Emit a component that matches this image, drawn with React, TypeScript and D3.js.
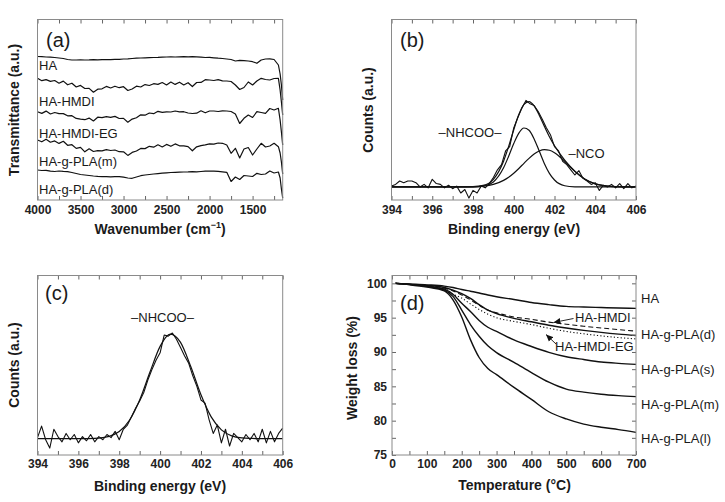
import React, { useRef, useEffect } from "react";
import * as d3 from "d3";

const FONT = "'Liberation Sans', Arial, Helvetica, sans-serif";

// ---------- (a) FTIR ----------
const wavenumbers = [
  4000, 3950, 3900, 3850, 3800, 3750, 3700, 3650, 3600, 3550,
  3500, 3450, 3400, 3350, 3300, 3250, 3200, 3150, 3100, 3050,
  3000, 2950, 2900, 2850, 2800, 2750, 2700, 2650, 2600, 2550,
  2500, 2450, 2400, 2350, 2300, 2250, 2200, 2150, 2100, 2050,
  2000, 1950, 1900, 1850, 1800, 1750, 1700, 1650, 1600, 1550,
  1500, 1450, 1400, 1350, 1300, 1250, 1200, 1180, 1165, 1150,
];
const ftirHA = [
  143.5, 143.3, 143.0, 142.8, 142.5, 142.0, 141.5, 140.5, 140.0, 140.0,
  140.2, 140.0, 140.1, 140.3, 140.2, 140.4, 140.5, 140.4, 140.6, 140.7,
  141.0, 141.2, 141.5, 141.8, 142.0, 142.2, 142.4, 142.5, 142.6, 142.8,
  143.0, 143.1, 143.0, 143.2, 143.4, 143.2, 143.3, 143.1, 142.9, 142.5,
  142.6, 142.2, 141.8, 141.5, 141.0, 140.5, 139.0, 139.6, 139.3, 139.0,
  138.3, 136.7, 140.0, 141.0, 141.2, 140.5, 135.0, 126, 115, 100,
];
const ftirHMDI = [
  121.7, 119.3, 120.4, 118.6, 119.5, 116.8, 118.9, 115.2, 116.8, 113.0,
  114.6, 111.5, 111.6, 107.8, 110.8, 111.2, 113.6, 112.0, 113.8, 112.3,
  113.3, 109.5, 111.0, 113.8, 113.0, 115.4, 114.5, 116.3, 115.6, 117.5,
  115.0, 118.0, 115.6, 117.8, 115.0, 117.3, 113.5, 117.5, 117.6, 120.3,
  120.0, 119.5, 120.3, 119.2, 119.0, 118.5, 115.0, 110.5, 112.5, 118.0,
  115.0, 119.0, 121.7, 120.5, 120.0, 121.5, 121.7, 110, 98, 85,
];
const ftirHMDIEG = [
  88.3, 86.6, 88.9, 86.0, 87.5, 86.3, 86.4, 84.2, 84.3, 81.6,
  80.8, 80.3, 81.9, 79.0, 82.8, 82.4, 83.4, 82.6, 83.6, 81.5,
  81.6, 77.8, 80.9, 82.3, 85.2, 84.8, 87.0, 86.3, 88.7, 87.6,
  88.2, 88.0, 89.0, 88.2, 88.3, 87.0, 86.5, 86.8, 89.2, 87.2,
  89.0, 89.0, 88.5, 89.2, 89.0, 88.5, 86.0, 76.5, 81.7, 85.0,
  82.5, 88.3, 87.5, 86.7, 91.5, 90.0, 91.7, 80, 68, 55,
];
const ftirPLAm = [
  60.0, 58.2, 60.8, 57.8, 59.1, 56.6, 58.7, 54.7, 55.3, 51.6,
  52.6, 48.2, 51.2, 48.5, 49.3, 49.2, 50.3, 49.5, 50.0, 48.3,
  48.2, 44.6, 47.6, 49.0, 51.6, 51.4, 53.7, 52.8, 55.2, 53.0,
  55.6, 53.7, 56.1, 54.2, 54.1, 53.4, 49.2, 53.2, 54.4, 55.2,
  56.2, 55.8, 57.0, 56.7, 55.0, 46.7, 51.7, 42.0, 51.0, 52.5,
  45.0, 51.0, 56.7, 53.0, 54.0, 56.7, 53.3, 47, 38, 26,
];
const ftirPLAd = [
  30.0, 29.5, 29.7, 28.8, 28.5, 29.0, 28.6, 28.3, 27.5, 26.5,
  25.5, 25.0, 24.5, 24.0, 23.6, 23.3, 23.3, 23.2, 23.3, 23.3,
  22.8, 22.0, 21.7, 23.0, 24.3, 25.0, 25.5, 26.0, 26.4, 26.8,
  27.2, 27.5, 27.7, 27.9, 28.0, 28.1, 28.3, 28.2, 28.5, 28.8,
  29.0, 28.8, 28.6, 28.2, 27.7, 18.5, 23.0, 20.5, 24.5, 24.0,
  23.5, 26.7, 25.5, 26.0, 29.0, 27.0, 28.0, 22, 11, 2,
];
const ftirLabels = ["HA", "HA-HMDI", "HA-HMDI-EG", "HA-g-PLA(m)", "HA-g-PLA(d)"];
const ftirTicks = [4000, 3750, 3500, 3250, 3000, 2750, 2500, 2250, 2000, 1750, 1500, 1250];
const ftirMajor = [4000, 3500, 3000, 2500, 2000, 1500];

// ---------- (b), (c) XPS N1s ----------
const energy = [
  394.0, 394.2, 394.4, 394.6, 394.8, 395.0, 395.2, 395.4, 395.6, 395.8,
  396.0, 396.2, 396.4, 396.6, 396.8, 397.0, 397.2, 397.4, 397.6, 397.8,
  398.0, 398.2, 398.4, 398.6, 398.8, 399.0, 399.2, 399.4, 399.6, 399.8,
  400.0, 400.2, 400.4, 400.6, 400.8, 401.0, 401.2, 401.4, 401.6, 401.8,
  402.0, 402.2, 402.4, 402.6, 402.8, 403.0, 403.2, 403.4, 403.6, 403.8,
  404.0, 404.2, 404.4, 404.6, 404.8, 405.0, 405.2, 405.4, 405.6, 405.8, 406.0,
];
const rawB = [
  0.01, 0.03, 0.07, 0.05, 0.07, 0.07, 0.05, 0.0, 0.03, -0.01,
  0.09, 0.04, 0.03, -0.01, 0.02, -0.02, 0.01, -0.07, -0.03, -0.13,
  -0.04, -0.07, 0.01, -0.01, 0.04, 0.11, 0.2, 0.26, 0.42, 0.47,
  0.69, 0.81, 0.92, 1.01, 0.97, 0.95, 0.88, 0.79, 0.69, 0.61,
  0.47, 0.42, 0.3, 0.26, 0.2, 0.14, 0.19, 0.1, 0.07, 0.03,
  0.05, -0.04, 0.02, 0.0, 0.03, -0.01, 0.04, -0.02, 0.04, -0.01, 0.01,
];
const fitXB = [394, 396, 397, 397.5, 398, 398.5, 399, 399.5, 399.75, 400, 400.25, 400.5, 400.75, 401, 401.25, 401.5, 401.75, 402, 402.5, 403, 403.5, 404, 404.5, 405, 406];
const fitEnvB = [0, 0, 0, 0.001, 0.003, 0.018, 0.089, 0.301, 0.473, 0.668, 0.845, 0.964, 0.996, 0.945, 0.838, 0.71, 0.587, 0.481, 0.314, 0.184, 0.09, 0.036, 0.012, 0.003, 0];
const fitNHCOOB = [0, 0, 0, 0, 0.001, 0.009, 0.059, 0.224, 0.359, 0.507, 0.629, 0.688, 0.662, 0.561, 0.419, 0.275, 0.159, 0.081, 0.014, 0.002, 0, 0, 0, 0, 0];
const fitNCOB = [0, 0, 0, 0.001, 0.002, 0.009, 0.03, 0.077, 0.114, 0.161, 0.216, 0.276, 0.334, 0.384, 0.419, 0.435, 0.428, 0.4, 0.3, 0.182, 0.09, 0.036, 0.012, 0.003, 0];

const rawC = [
  0.01, 0.12, -0.01, -0.09, 0.09, 0.02, -0.03, 0.05, -0.01, 0.04,
  -0.04, 0.02, -0.02, 0.04, -0.03, 0.02, -0.01, 0.04, 0.01, 0.07,
  -0.01, 0.09, 0.13, 0.21, 0.29, 0.36, 0.44, 0.56, 0.66, 0.75,
  0.82, 0.99, 0.98, 1.01, 0.95, 0.87, 0.79, 0.72, 0.6, 0.5,
  0.37, 0.34, 0.18, 0.05, 0.13, -0.04, 0.09, -0.07, 0.05, 0.01,
  -0.03, 0.04, -0.01, 0.05, -0.03, 0.09, -0.04, 0.07, -0.03, 0.05, 0.1,
];
const fitXC = [394, 395, 396, 396.5, 397, 397.5, 398, 398.5, 399, 399.5, 400, 400.5, 401, 401.5, 402, 402.5, 403, 403.5, 404, 404.5, 405, 406];
const fitC = [0, 0, 0, 0.001, 0.005, 0.022, 0.068, 0.176, 0.37, 0.634, 0.882, 0.999, 0.92, 0.689, 0.419, 0.208, 0.084, 0.027, 0.007, 0.002, 0, 0];

const eTicks = [394, 395, 396, 397, 398, 399, 400, 401, 402, 403, 404, 405, 406];
const eMajor = [394, 396, 398, 400, 402, 404, 406];

// ---------- (d) TGA ----------
const temps = [10, 50, 100, 150, 175, 200, 225, 250, 275, 300, 350, 400, 450, 500, 550, 600, 650, 700];
const tgaHA = [100, 99.9, 99.78, 99.6, 99.4, 99.1, 98.85, 98.6, 98.3, 98.05, 97.65, 97.2, 96.9, 96.65, 96.55, 96.47, 96.4, 96.35];
const tgaPLAd = [100, 99.85, 99.7, 99.4, 99.0, 98.5, 97.8, 96.9, 96.1, 95.6, 94.9, 94.4, 93.9, 93.5, 93.15, 92.85, 92.6, 92.4];
const tgaHMDI = [100, 99.85, 99.65, 99.3, 98.9, 98.3, 97.6, 96.8, 96.1, 95.7, 95.1, 94.75, 94.35, 94.05, 93.75, 93.5, 93.25, 93.05];
const tgaHMDIEG = [100, 99.85, 99.6, 99.1, 98.4, 97.85, 97.0, 96.2, 95.5, 95.0, 94.45, 94.0, 93.45, 93.0, 92.65, 92.35, 92.1, 91.9];
const tgaPLAs = [100, 99.85, 99.6, 99.15, 98.4, 97.1, 95.9, 94.6, 93.6, 93.0, 91.75, 90.8, 89.95, 89.3, 88.9, 88.55, 88.35, 88.2];
const tgaPLAm = [100, 99.85, 99.55, 99.0, 98.1, 96.1, 94.0, 92.3, 90.9, 89.9, 88.5, 87.0, 85.6, 84.6, 84.15, 83.85, 83.65, 83.5];
const tgaPLAl = [100, 99.8, 99.45, 98.9, 97.6, 95.1, 91.8, 89.2, 87.6, 86.7, 84.85, 83.1, 81.3, 80.25, 79.5, 79.05, 78.7, 78.3];
const tgaRightLabels = ["HA", "HA-g-PLA(d)", "HA-g-PLA(s)", "HA-g-PLA(m)", "HA-g-PLA(l)"];
const tTicks = [0, 50, 100, 150, 200, 250, 300, 350, 400, 450, 500, 550, 600, 650, 700];
const tMajor = [0, 100, 200, 300, 400, 500, 600, 700];
const wTicks = [75, 77.5, 80, 82.5, 85, 87.5, 90, 92.5, 95, 97.5, 100];
const wMajor = [75, 80, 85, 90, 95, 100];

type Box = { x0: number; x1: number; y0: number; y1: number };

function drawFrame(g: any, box: Box, x: any, y: any, o: any) {
  const fmt = (d: any) => (o.xMajor.includes(+d) ? String(d) : "");
  g.append("g")
    .attr("transform", `translate(0,${box.y1})`)
    .call(d3.axisBottom(x).tickValues(o.xTicks).tickSize(-4).tickSizeOuter(0).tickPadding(o.xPad).tickFormat(fmt));
  g.append("g")
    .attr("transform", `translate(0,${box.y0})`)
    .call(d3.axisTop(x).tickValues(o.xTicks).tickSize(-4).tickSizeOuter(0).tickFormat(() => ""));
  if (o.yTicks) {
    g.append("g")
      .attr("transform", `translate(${box.x0},0)`)
      .call(d3.axisLeft(y).tickValues(o.yTicks).tickSize(-4).tickSizeOuter(0).tickPadding(5)
        .tickFormat((d: any) => (o.yMajor.includes(+d) ? String(d) : "")));
    g.append("g")
      .attr("transform", `translate(${box.x1},0)`)
      .call(d3.axisRight(y).tickValues(o.yTicks).tickSize(-4).tickSizeOuter(0).tickFormat(() => ""));
  }
  g.selectAll(".domain").remove();
  g.selectAll(".tick line").attr("stroke", "#666").attr("stroke-width", 1);
  g.selectAll(".tick text")
    .attr("font-family", FONT)
    .attr("font-size", 12)
    .attr("font-weight", "bold")
    .attr("fill", "#222");
  g.append("rect")
    .attr("x", box.x0).attr("y", box.y0)
    .attr("width", box.x1 - box.x0).attr("height", box.y1 - box.y0)
    .attr("fill", "none").attr("stroke", "#8a8a8a").attr("stroke-width", 1);
}

function label(g: any, txt: string, x: number, y: number, size = 13, anchor = "start", weight = "normal") {
  return g.append("text")
    .attr("x", x).attr("y", y)
    .attr("font-family", FONT).attr("font-size", size)
    .attr("font-weight", weight).attr("text-anchor", anchor)
    .attr("fill", "#1a1a1a").text(txt);
}

function yTitle(g: any, txt: string, x: number, y: number) {
  g.append("text")
    .attr("transform", `translate(${x},${y}) rotate(-90)`)
    .attr("font-family", FONT).attr("font-size", 14).attr("font-weight", "bold")
    .attr("text-anchor", "middle").attr("fill", "#1a1a1a").text(txt);
}

function trace(g: any, xs: number[], ys: number[], x: any, y: any, curve: any, dash?: string, w = 1.2) {
  const line = d3.line<number>().x((_, i) => x(xs[i])).y((d) => y(d)).curve(curve);
  g.append("path")
    .attr("d", line(ys))
    .attr("fill", "none").attr("stroke", "#111")
    .attr("stroke-width", w)
    .attr("stroke-dasharray", dash || null)
    .attr("stroke-linejoin", "round");
}

export default function App() {
  const ref = useRef<SVGSVGElement>(null);

  useEffect(() => {
    const svg = d3.select(ref.current);
    svg.selectAll("*").remove();
    svg.append("rect").attr("width", 725).attr("height", 502).attr("fill", "#fff");

    svg.append("defs").append("marker")
      .attr("id", "arr").attr("viewBox", "0 0 10 10")
      .attr("refX", 10).attr("refY", 5)
      .attr("markerWidth", 7).attr("markerHeight", 7)
      .attr("markerUnits", "userSpaceOnUse").attr("orient", "auto")
      .append("path").attr("d", "M0,0.5 L10,5 L0,9.5 Z").attr("fill", "#111");

    // ---- (a) ----
    const boxA = { x0: 37.5, x1: 282.7, y0: 19.5, y1: 200 };
    const xA = d3.scaleLinear().domain([4000, 1150]).range([boxA.x0, boxA.x1]);
    const yA = d3.scaleLinear().domain([0, 180.5]).range([boxA.y1, boxA.y0]);
    const gA = svg.append("g");
    [ftirHA, ftirHMDI, ftirHMDIEG, ftirPLAm, ftirPLAd].forEach((s) =>
      trace(gA, wavenumbers, s, xA, yA, d3.curveLinear));
    [70, 106, 137.5, 165.5, 193.5].forEach((yy, i) => label(gA, ftirLabels[i], 39, yy));
    drawFrame(gA, boxA, xA, yA, { xTicks: ftirTicks, xMajor: ftirMajor, xPad: 5 });
    label(gA, "(a)", 46, 47, 20);
    yTitle(gA, "Transmittance (a.u.)", 19, 110);
    const tA = label(gA, "Wavenumber (cm", 160, 234, 14, "middle", "bold");
    tA.append("tspan").attr("font-size", 9).attr("dy", -6).text("\u22121");
    tA.append("tspan").attr("dy", 6).text(")");

    // ---- (b) ----
    const boxB = { x0: 391.5, x1: 636, y0: 19.5, y1: 200 };
    const xB = d3.scaleLinear().domain([394, 406]).range([boxB.x0, boxB.x1]);
    const yB = d3.scaleLinear().domain([-0.152, 1.954]).range([boxB.y1, boxB.y0]);
    const gB = svg.append("g");
    trace(gB, energy, rawB, xB, yB, d3.curveLinear, undefined, 1.1);
    trace(gB, fitXB, fitNHCOOB, xB, yB, d3.curveMonotoneX);
    trace(gB, fitXB, fitNCOB, xB, yB, d3.curveMonotoneX);
    trace(gB, fitXB, fitEnvB, xB, yB, d3.curveMonotoneX);
    drawFrame(gB, boxB, xB, yB, { xTicks: eTicks, xMajor: eMajor, xPad: 5 });
    label(gB, "(b)", 400, 47, 20);
    label(gB, "\u2013NHCOO\u2013", 470, 137, 13, "middle");
    label(gB, "\u2013NCO", 568.5, 158, 13);
    yTitle(gB, "Counts (a.u.)", 373, 110);
    label(gB, "Binding energy (eV)", 514, 234, 14, "middle", "bold");

    // ---- (c) ----
    const boxC = { x0: 37.5, x1: 282.7, y0: 275.5, y1: 455 };
    const xC = d3.scaleLinear().domain([394, 406]).range([boxC.x0, boxC.x1]);
    const yC = d3.scaleLinear().domain([-0.156, 1.559]).range([boxC.y1, boxC.y0]);
    const gC = svg.append("g");
    trace(gC, energy, rawC, xC, yC, d3.curveLinear, undefined, 1.1);
    trace(gC, fitXC, fitC, xC, yC, d3.curveMonotoneX);
    drawFrame(gC, boxC, xC, yC, { xTicks: eTicks, xMajor: eMajor, xPad: 4 });
    label(gC, "(c)", 45, 300, 20);
    label(gC, "\u2013NHCOO\u2013", 162.5, 322, 13, "middle");
    yTitle(gC, "Counts (a.u.)", 19, 365);
    label(gC, "Binding energy (eV)", 160, 491, 14, "middle", "bold");

    // ---- (d) ----
    const boxD = { x0: 392, x1: 636, y0: 275.5, y1: 455 };
    const xD = d3.scaleLinear().domain([0, 700]).range([boxD.x0, boxD.x1]);
    const yD = d3.scaleLinear().domain([75, 101.14]).range([boxD.y1, boxD.y0]);
    const gD = svg.append("g");
    [tgaHA, tgaPLAd, tgaPLAs, tgaPLAm, tgaPLAl].forEach((s) =>
      trace(gD, temps, s, xD, yD, d3.curveMonotoneX, undefined, 1.4));
    trace(gD, temps, tgaHMDI, xD, yD, d3.curveMonotoneX, "5,3", 1.1);
    trace(gD, temps, tgaHMDIEG, xD, yD, d3.curveMonotoneX, "1.2,2.2", 1.1);
    drawFrame(gD, boxD, xD, yD, { xTicks: tTicks, xMajor: tMajor, xPad: 4, yTicks: wTicks, yMajor: wMajor });
    label(gD, "(d)", 400, 310, 20);
    [303, 338.5, 373.5, 409, 443].forEach((yy, i) => label(gD, tgaRightLabels[i], 641, yy));
    label(gD, "HA-HMDI", 575, 321.5);
    label(gD, "HA-HMDI-EG", 555, 351);
    gD.append("line").attr("x1", 573.5).attr("y1", 318.5).attr("x2", 553.5).attr("y2", 322.5)
      .attr("stroke", "#111").attr("stroke-width", 0.9).attr("marker-end", "url(#arr)");
    gD.append("line").attr("x1", 556).attr("y1", 344).attr("x2", 546).attr("y2", 334.5)
      .attr("stroke", "#111").attr("stroke-width", 0.9).attr("marker-end", "url(#arr)");
    yTitle(gD, "Weight loss (%)", 357, 368);
    label(gD, "Temperature (\u00B0C)", 514.5, 490, 14, "middle", "bold");
  }, []);

  return (
    <svg
      ref={ref}
      width={725}
      height={502}
      style={{ position: "absolute", left: 0, top: 0, display: "block" }}
    />
  );
}
